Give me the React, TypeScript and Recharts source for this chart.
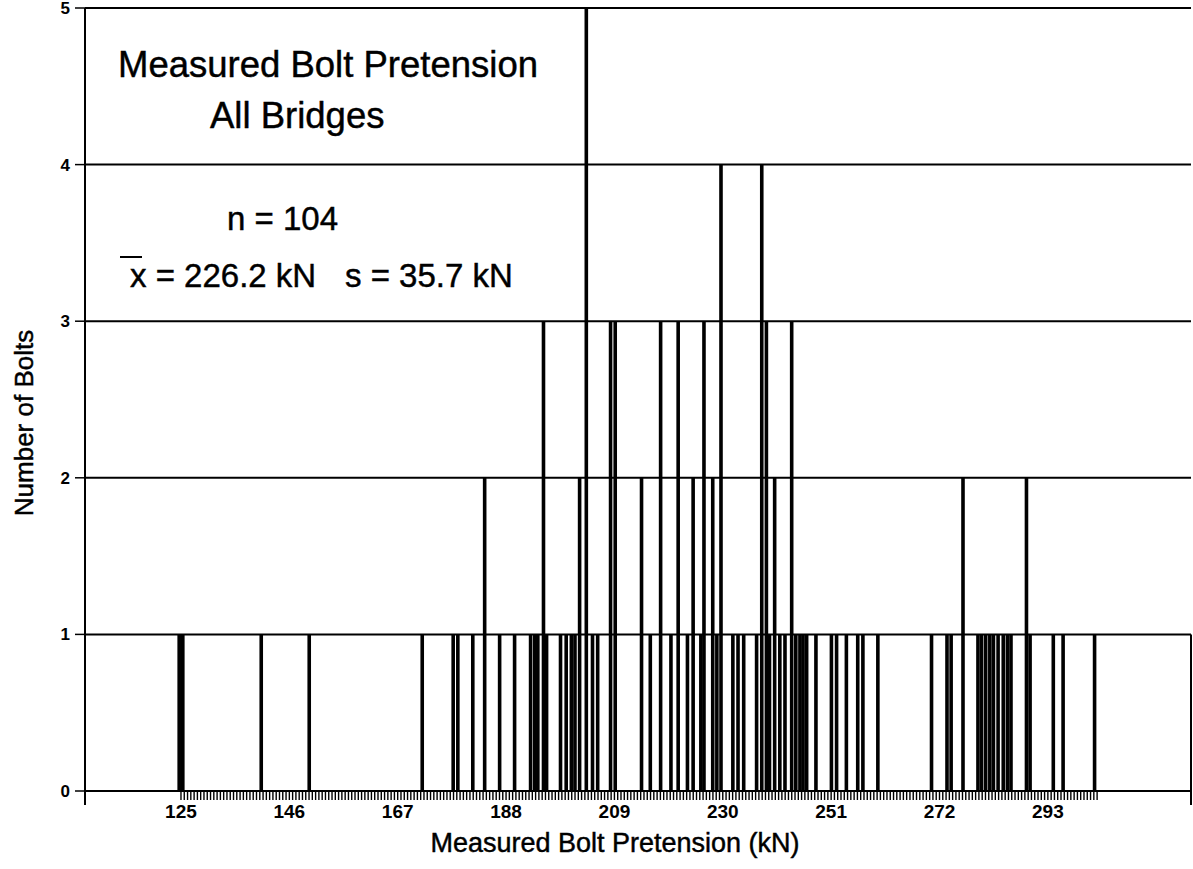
import React from "react";
import { BarChart, Bar, XAxis, YAxis, CartesianGrid, Label, ReferenceLine } from "recharts";

// measured pretension of each bar position (kN) and how many bolts fell there
const pretension = [
  124.7, 125.4, 140.6, 149.9, 171.8, 177.8, 178.7, 181.6, 183.9, 186.8,
  189.7, 192.8, 193.6, 194.2, 195.3, 195.9, 198.6, 199.7, 200.7, 201.4,
  202.3, 203.6, 204.8, 205.8, 208.3, 209.2, 214.3, 216.0, 218.0, 220.0,
  221.4, 223.2, 224.3, 225.8, 226.4, 228.1, 228.9, 229.7, 232.0, 233.0,
  234.1, 236.6, 237.6, 238.5, 239.1, 240.1, 241.1, 242.1, 243.4, 244.2,
  245.0, 245.6, 246.3, 248.1, 251.1, 252.1, 254.0, 256.2, 257.2, 260.1,
  270.5, 273.5, 274.3, 276.6, 279.5, 280.2, 281.0, 281.8, 282.5, 283.4,
  284.4, 285.2, 285.9, 288.9, 289.6, 294.1, 296.0, 302.1,
];
const bolts = [
  1, 1, 1, 1, 1, 1, 1, 1, 2, 1,
  1, 1, 1, 1, 3, 1, 1, 1, 1, 1,
  2, 5, 1, 1, 3, 3, 2, 1, 3, 1,
  3, 1, 2, 1, 3, 2, 1, 4, 1, 1,
  1, 1, 4, 3, 1, 2, 1, 1, 3, 1,
  1, 1, 1, 1, 1, 1, 1, 1, 1, 1,
  1, 1, 1, 2, 1, 1, 1, 1, 1, 1,
  1, 1, 1, 2, 1, 1, 1, 1,
];
const kNLabels = [125, 146, 167, 188, 209, 230, 251, 272, 293];
const countTicks = [0, 1, 2, 3, 4, 5];

const X_MIN = 106.4;
const X_MAX = 320.74;
const BIN = 21 / 33; // spacing of the small ruler ticks

const data = pretension.map((kn, i) => ({ kn, count: bolts[i] }));

const rulerTicks: number[] = [];
for (let k = 0; 125 + k * BIN <= 303; k++) rulerTicks.push(+(125 + k * BIN).toFixed(3));
const xTicks = [X_MIN, ...rulerTicks, X_MAX];

const FONT = "'Liberation Sans', Arial, Helvetica, sans-serif";
// the scanned original looks a bit heavier than plain regular weight
const INK = { fill: "#000", stroke: "#000", strokeWidth: 0.45 };

const isLabel = (v: number) => kNLabels.some((t) => Math.abs(t - v) < 0.01);

const XTick = (props: any) => {
  const { x, y, payload } = props;
  const v = payload.value;
  const end = v === X_MIN || v === X_MAX;
  return (
    <g>
      <line x1={x} x2={x} y1={y} y2={y + (end ? 14 : 9)} stroke="#000" strokeWidth={end ? 2 : 1.4} />
      {isLabel(v) && (
        <text x={x} y={y + 27} textAnchor="middle" fontSize={19} fontWeight={700} fontFamily={FONT} fill="#000">
          {Math.round(v)}
        </text>
      )}
    </g>
  );
};

// thin stick centred on the value, whatever band width recharts picks
const Stick = (props: any) => {
  const { x, y, width, height } = props;
  if (!height) return null;
  const cx = x + width / 2;
  return <rect x={cx - 1.8} y={y} width={3.6} height={height} fill="#000" />;
};

export default function App() {
  return (
    <div style={{ position: "absolute", left: 0, top: 0, width: 1193, height: 869, background: "#fff" }}>
      <BarChart
        width={1193}
        height={869}
        data={data}
        margin={{ top: 8, right: 2, left: 0, bottom: 0 }}
      >
        <CartesianGrid horizontal vertical={false} stroke="#000" strokeWidth={2} />
        <XAxis
          dataKey="kn"
          type="number"
          domain={[X_MIN, X_MAX]}
          allowDataOverflow
          ticks={xTicks}
          interval={0}
          tickSize={0}
          tickMargin={0}
          tick={<XTick />}
          axisLine={{ stroke: "#000", strokeWidth: 2 }}
          height={78}
        >
          <Label
            content={() => (
              <text x={615} y={852} textAnchor="middle" fontSize={27} fontFamily={FONT} {...INK}>
                Measured Bolt Pretension (kN)
              </text>
            )}
          />
        </XAxis>
        <YAxis
          type="number"
          domain={[0, 5]}
          ticks={countTicks}
          interval={0}
          width={85}
          tickSize={10}
          tickMargin={5}
          tickLine={{ stroke: "#000", strokeWidth: 1.5 }}
          axisLine={{ stroke: "#000", strokeWidth: 2 }}
          tick={{ fill: "#000", fontSize: 17, fontWeight: 700, fontFamily: FONT }}
        >
          <Label
            content={() => (
              <text
                x={24}
                y={423}
                transform="rotate(-90 24 423)"
                textAnchor="middle"
                dominantBaseline="central"
                fontSize={26}
                fontFamily={FONT}
                {...INK}
              >
                Number of Bolts
              </text>
            )}
          />
        </YAxis>
        <ReferenceLine
          segment={[
            { x: X_MAX, y: 0 },
            { x: X_MAX, y: 1 },
          ]}
          stroke="#000"
          strokeWidth={2}
          ifOverflow="visible"
        />
        <Bar dataKey="count" fill="#000" shape={<Stick />} isAnimationActive={false} />
      </BarChart>
      <svg
        width={1193}
        height={869}
        style={{ position: "absolute", left: 0, top: 0, pointerEvents: "none" }}
        fontFamily={FONT}
        {...INK}
      >
        <text x={118} y={77} fontSize={36.5}>Measured Bolt Pretension</text>
        <text x={210} y={128} fontSize={36.5}>All Bridges</text>
        <text x={227} y={230} fontSize={33}>n = 104</text>
        <line x1={120} x2={142} y1={257} y2={257} stroke="#000" strokeWidth={2} />
        <text x={130} y={287} fontSize={33}>x = 226.2 kN</text>
        <text x={345} y={287} fontSize={33}>s = 35.7 kN</text>
      </svg>
    </div>
  );
}
